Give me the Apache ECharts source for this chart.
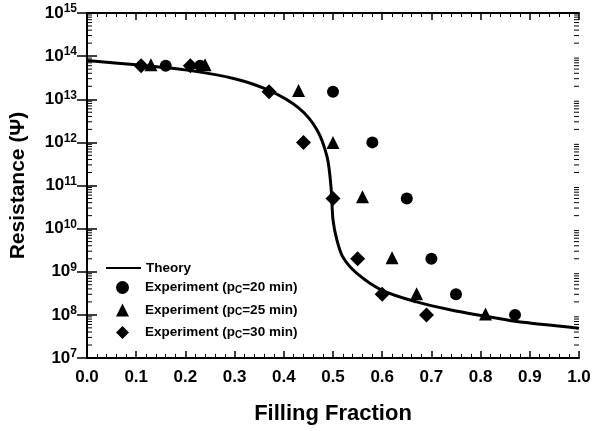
<!DOCTYPE html>
<html>
<head>
<meta charset="utf-8">
<script src="https://cdn.jsdelivr.net/npm/echarts@6/dist/echarts.min.js"></script>
<style>
  html, body { margin: 0; padding: 0; background: #fff; }
  #chart { width: 594px; height: 431px; }
</style>
</head>
<body>
<div id="chart"></div>
<script>
// theory curve (filling fraction, resistance)
const theoryX = [0.0, 0.1, 0.2, 0.3, 0.37, 0.43, 0.467, 0.488, 0.496, 0.5, 0.508, 0.52, 0.548, 0.6, 0.67, 0.74, 0.81, 0.87, 1.0];
const theoryY = [7.9e13, 6.3e13, 4.8e13, 3.0e13, 1.6e13, 6.3e12, 2.0e12, 4.6e11, 9.1e10, 1.6e10, 5.4e9, 2.2e9, 9.3e8, 3.7e8, 2.0e8, 1.3e8, 9.3e7, 7.1e7, 4.9e7];

// experiments
const exp20X = [0.16, 0.23, 0.50, 0.58, 0.65, 0.70, 0.75, 0.87];
const exp20Y = [6.0e13, 6.0e13, 1.5e13, 1.0e12, 5.0e10, 2.0e9, 3.0e8, 1.0e8];
const exp25X = [0.13, 0.24, 0.43, 0.50, 0.56, 0.62, 0.67, 0.81];
const exp25Y = [6.3e13, 6.3e13, 1.6e13, 1.0e12, 5.5e10, 2.1e9, 3.1e8, 1.05e8];
const exp30X = [0.11, 0.21, 0.37, 0.44, 0.50, 0.55, 0.60, 0.69];
const exp30Y = [6.0e13, 6.0e13, 1.5e13, 1.0e12, 5.0e10, 2.0e9, 3.0e8, 1.0e8];

const seriesNames = ["Theory", "Experiment (pC=20 min)", "Experiment (pC=25 min)", "Experiment (pC=30 min)"];

// log minor ticks 2..9 x 10^k
const minorMant = [2, 3, 4, 5, 6, 7, 8, 9];
const decades = [7, 8, 9, 10, 11, 12, 13, 14];

const zip = (xs, ys) => xs.map((x, i) => [x, ys[i]]);
const minorTicks = [];
decades.forEach(d => minorMant.forEach(m => minorTicks.push([0, m * Math.pow(10, d)])));

const fontFam = "Liberation Sans, Arial, sans-serif";

const legendText = {
  fontFamily: fontFam,
  fontWeight: "bold",
  fontSize: 13.5,
  lineHeight: 14,
  color: "#000",
  rich: {
    sub: { fontSize: 10, lineHeight: 9, fontWeight: "bold", fontFamily: fontFam, padding: [5, 0, 0, 0] }
  }
};

const chart = echarts.init(document.getElementById("chart"));
const option = {
  animation: false,
  backgroundColor: "#fff",
  grid: { left: 87, right: 15, top: 13, bottom: 73 },
  legend: [
    {
      // line entry
      orient: "vertical",
      left: 105,
      top: 261,
      padding: 0,
      itemWidth: 35,
      itemHeight: 13,
      data: [{ name: seriesNames[0], itemStyle: { opacity: 0 } }],
      textStyle: legendText
    },
    {
      // marker entries
      orient: "vertical",
      left: 116,
      top: 280,
      padding: 0,
      itemWidth: 13,
      itemHeight: 13,
      itemGap: 7.5,
      data: seriesNames.slice(1),
      formatter: n => n.replace("pC", "p{sub|C}"),
      textStyle: Object.assign({}, legendText, { padding: [0, 0, 0, 11] })
    }
  ],
  xAxis: [
    {
      type: "value",
      min: 0,
      max: 1,
      interval: 0.1,
      name: "Filling Fraction",
      nameLocation: "middle",
      nameGap: 45,
      nameTextStyle: { fontFamily: fontFam, fontWeight: "bold", fontSize: 22, color: "#000" },
      axisLine: { lineStyle: { color: "#000", width: 2 } },
      axisTick: { inside: true, length: 7, lineStyle: { color: "#000", width: 1.5 } },
      minorTick: { show: true, splitNumber: 5, length: 4, lineStyle: { color: "#000", width: 1 } },
      axisLabel: {
        margin: 11,
        formatter: v => v.toFixed(1),
        fontFamily: fontFam, fontWeight: "bold", fontSize: 17, color: "#000"
      },
      splitLine: { show: false }
    },
    {
      type: "value",
      position: "top",
      min: 0,
      max: 1,
      interval: 0.1,
      axisLine: { lineStyle: { color: "#000", width: 2 } },
      axisTick: { inside: true, length: 7, lineStyle: { color: "#000", width: 1.5 } },
      minorTick: { show: true, splitNumber: 5, length: 4, lineStyle: { color: "#000", width: 1 } },
      axisLabel: { show: false },
      splitLine: { show: false }
    }
  ],
  yAxis: [
    {
      type: "log",
      logBase: 10,
      min: 1e7,
      max: 1e15,
      name: "Resistance (Ψ)",
      nameLocation: "middle",
      nameGap: 58,
      nameRotate: 90,
      nameTextStyle: { fontFamily: fontFam, fontWeight: "bold", fontSize: 21, color: "#000" },
      axisLine: { show: true, lineStyle: { color: "#000", width: 2 } },
      axisTick: { inside: true, length: 10, lineStyle: { color: "#000", width: 1.5 } },
      axisLabel: {
        margin: 10,
        formatter: v => "{b|10}{s|" + Math.round(Math.log10(v)) + "}",
        rich: {
          b: { fontFamily: fontFam, fontWeight: "bold", fontSize: 17, color: "#000" },
          s: { fontFamily: fontFam, fontWeight: "bold", fontSize: 12, color: "#000", padding: [0, 0, 8, 0] }
        }
      },
      splitLine: { show: false }
    },
    {
      type: "log",
      logBase: 10,
      min: 1e7,
      max: 1e15,
      position: "right",
      axisLine: { show: true, lineStyle: { color: "#000", width: 2 } },
      axisTick: { inside: true, length: 10, lineStyle: { color: "#000", width: 1.5 } },
      axisLabel: { show: false },
      splitLine: { show: false }
    }
  ],
  series: [
    {
      name: seriesNames[0],
      type: "line",
      data: zip(theoryX, theoryY),
      symbol: "none",
      smooth: 0.3,
      lineStyle: { color: "#000", width: 3 },
      itemStyle: { color: "#000" },
      z: 3
    },
    {
      name: seriesNames[1],
      type: "scatter",
      data: zip(exp20X, exp20Y),
      symbol: "circle",
      symbolSize: 12,
      itemStyle: { color: "#000", opacity: 1 }
    },
    {
      name: seriesNames[2],
      type: "scatter",
      data: zip(exp25X, exp25Y),
      symbol: "triangle",
      symbolSize: 13,
      itemStyle: { color: "#000", opacity: 1 }
    },
    {
      name: seriesNames[3],
      type: "scatter",
      data: zip(exp30X, exp30Y),
      symbol: "diamond",
      symbolSize: 15,
      itemStyle: { color: "#000", opacity: 1 }
    },
    {
      name: "minorTicks",
      type: "custom",
      data: minorTicks,
      silent: true,
      clip: false,
      renderItem: (params, api) => {
        const v = api.value(1);
        const l = api.coord([0, v]);
        const r = api.coord([1, v]);
        const style = { stroke: "#000", lineWidth: 1 };
        return {
          type: "group",
          children: [
            { type: "line", shape: { x1: l[0], y1: l[1], x2: l[0] + 5, y2: l[1] }, style },
            { type: "line", shape: { x1: r[0], y1: r[1], x2: r[0] - 5, y2: r[1] }, style }
          ]
        };
      }
    }
  ]
};
chart.setOption(option);
</script>
</body>
</html>
